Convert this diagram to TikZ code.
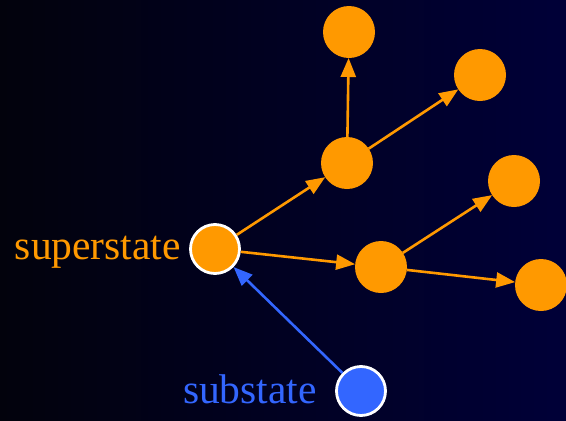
\documentclass[tikz,border=0pt]{standalone}
\usepackage{fontspec}
\setmainfont{Liberation Serif}
\usetikzlibrary{arrows.meta}
\definecolor{orng}{RGB}{255,153,0}
\definecolor{blu}{RGB}{51,102,255}
\definecolor{bgL}{RGB}{2,2,12}
\definecolor{bgR}{RGB}{0,0,56}
\tikzset{
  state/.style={circle, fill=orng, minimum size=52pt, inner sep=0pt, outer sep=0pt},
  ringstate/.style={circle, draw=white, line width=2.8pt, minimum size=49pt, inner sep=0pt, outer sep=1.4pt},
  link/.style={draw=orng, line width=2.6pt, -{Triangle[length=19pt,width=15pt]}},
  lbl/.style={font=\fontsize{41.5}{44}\selectfont, inner sep=0pt}
}
\begin{document}
\begin{tikzpicture}[x=1pt,y=-1pt]
\shade[left color=bgL, right color=bgR] (0,0) rectangle (566,421);
\useasboundingbox (0,0) rectangle (566,421);
\node[ringstate, fill=orng] (super) at (215,249) {};
\node[ringstate, fill=blu] (sub) at (361,391) {};
\node[state] (n1) at (347,163) {};
\node[state] (n2) at (349,32) {};
\node[state] (n3) at (480,75) {};
\node[state] (n4) at (381,267) {};
\node[state] (n5) at (514,181) {};
\node[state] (n6) at (541,285) {};
\node[lbl, text=orng, anchor=base east] (tsuper) at (181,259) {superstate};
\node[lbl, text=blu, anchor=base east] (tsub) at (317,403) {substate};
\draw[link] (super) -- (n1);
\draw[link] (super) -- (n4);
\draw[link] (n1) -- (n2);
\draw[link] (n1) -- (n3);
\draw[link] (n4) -- (n5);
\draw[link] (n4) -- (n6);
\draw[link, draw=blu, fill=blu] (sub) -- (super);
\end{tikzpicture}
\end{document}
